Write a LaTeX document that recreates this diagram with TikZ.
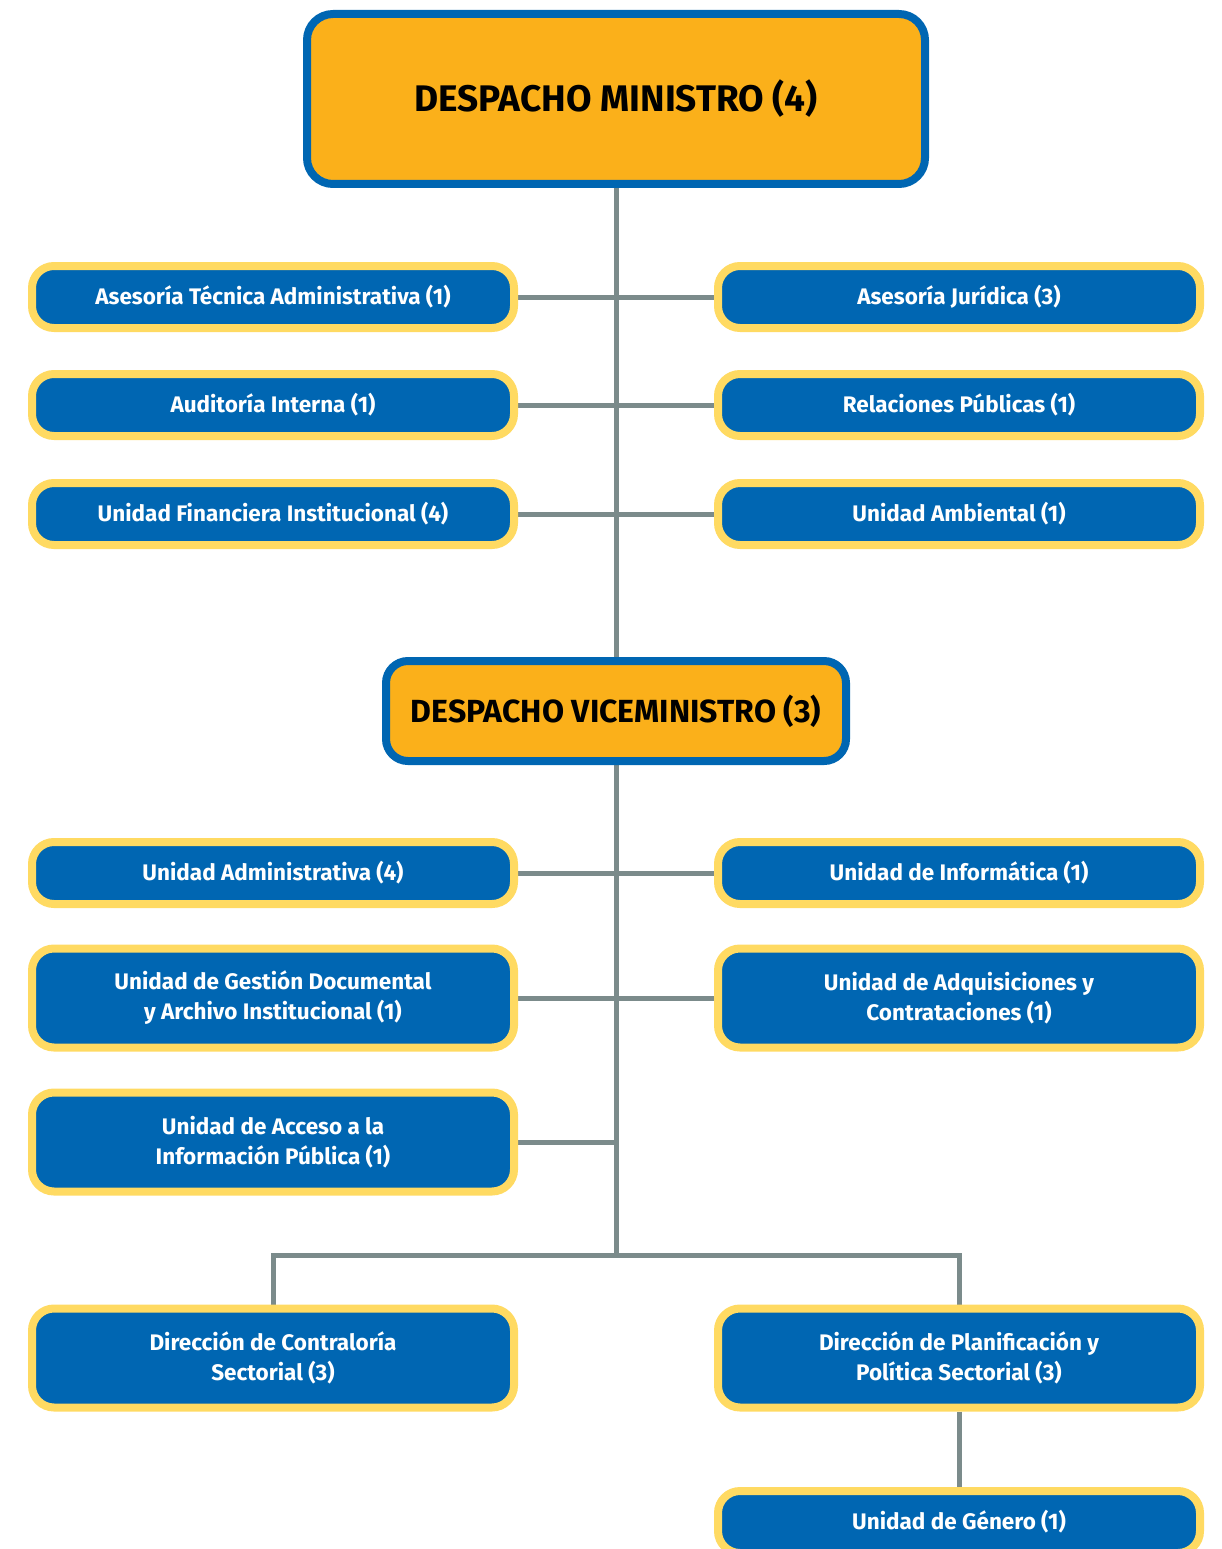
\documentclass[tikz,border=0pt]{standalone}
\usepackage{fontspec}
\setmainfont{Fira Sans}
\usetikzlibrary{backgrounds}
\definecolor{mblue}{HTML}{0066B2}
\definecolor{morange}{HTML}{FBB01A}
\definecolor{myellow}{HTML}{FFDA62}
\definecolor{mgray}{HTML}{7B8B8B}
\tikzset{
  headbox/.style={draw=mblue, fill=morange, line width=8pt, rounded corners=26pt,
    text=black, font=\bfseries, align=center, inner sep=0pt},
  unitbox/.style={draw=myellow, fill=mblue, line width=8pt, rounded corners=22pt,
    text=white, font=\fontsize{22.5}{30}\selectfont\bfseries, align=center,
    minimum width=482pt, minimum height=62pt, inner sep=0pt},
  tallbox/.style={unitbox, minimum height=99pt},
  link/.style={draw=mgray, line width=5pt}
}
\begin{document}
\begin{tikzpicture}[x=1pt,y=-1pt]
\useasboundingbox (0,0) rectangle (1222,1549);
% heads
\node[headbox, minimum width=618pt, minimum height=170pt, font=\fontsize{37}{40}\selectfont\bfseries] (min) at (616,99) {DESPACHO MINISTRO (4)};
\node[headbox, minimum width=460pt, minimum height=100pt, rounded corners=22pt, font=\fontsize{32}{36}\selectfont\bfseries] (vice) at (616,711) {DESPACHO VICEMINISTRO (3)};
% first group
\node[unitbox] (ata) at (273,297) {Asesoría Técnica Administrativa (1)};
\node[unitbox] (aj)  at (959,297) {Asesoría Jurídica (3)};
\node[unitbox] (ai)  at (273,405) {Auditoría Interna (1)};
\node[unitbox] (rp)  at (959,405) {Relaciones Públicas (1)};
\node[unitbox] (ufi) at (273,514) {Unidad Financiera Institucional (4)};
\node[unitbox] (ua)  at (959,514) {Unidad Ambiental (1)};
% second group
\node[unitbox] (uad) at (273,873) {Unidad Administrativa (4)};
\node[unitbox] (uin) at (959,873) {Unidad de Informática (1)};
\node[tallbox] (ugd) at (273,998) {Unidad de Gestión Documental\\y Archivo Institucional (1)};
\node[tallbox] (uac) at (959,998) {Unidad de Adquisiciones y\\Contrataciones (1)};
\node[tallbox] (uai) at (273,1142) {Unidad de Acceso a la\\Información Pública (1)};
\node[tallbox] (dcs) at (273,1358) {Dirección de Contraloría\\Sectorial (3)};
\node[tallbox] (dps) at (959,1358) {Dirección de Planificación y\\Política Sectorial (3)};
\node[unitbox] (ug)  at (959,1522) {Unidad de Género (1)};
\coordinate (j) at (616,1255);
\coordinate (r3) at (616,1142);
\begin{scope}[on background layer]
\draw[link] (min.south) -- (vice.north);
\draw[link] (ata.east) -- (aj.west);
\draw[link] (ai.east) -- (rp.west);
\draw[link] (ufi.east) -- (ua.west);
\draw[link] (vice.south) -- (j);
\draw[link] (uad.east) -- (uin.west);
\draw[link] (ugd.east) -- (uac.west);
\draw[link] (uai.east) -- (r3);
\draw[link] (dcs.north) |- (j) -| (dps.north);
\draw[link] (dps.south) -- (ug.north);
\end{scope}
\end{tikzpicture}
\end{document}
